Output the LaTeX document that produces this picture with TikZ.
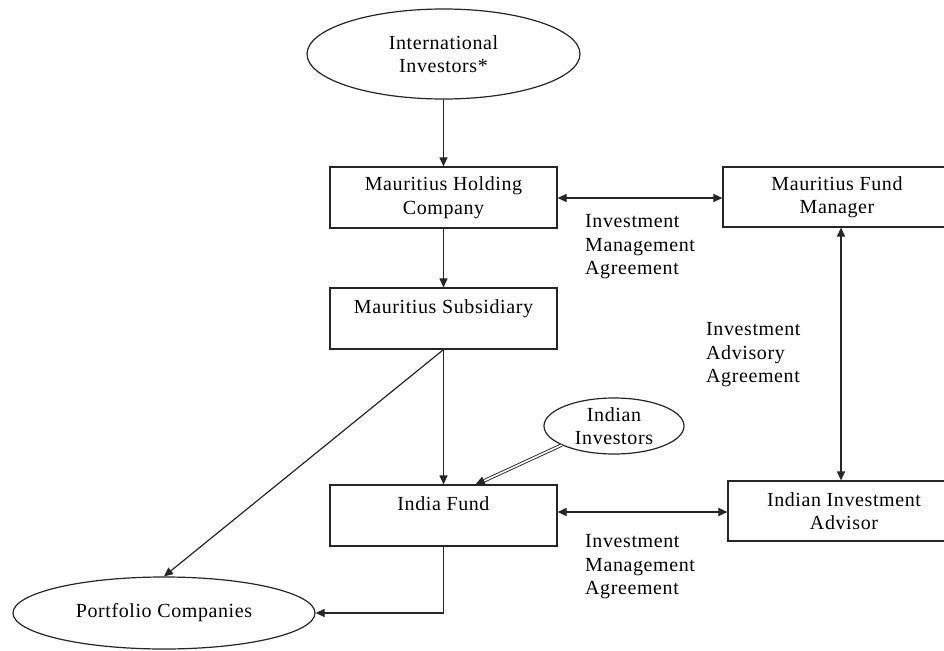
\documentclass[tikz,border=0pt]{standalone}
\usepackage{fontspec}
\setmainfont[LetterSpace=3]{Liberation Serif}
\usetikzlibrary{arrows.meta,shapes.geometric}
\begin{document}
\begin{tikzpicture}[x=1pt,y=-1pt,
  every node/.style={font=\fontsize{20}{23.5}\selectfont, text=black},
  conn/.style={draw=black!85, line width=1.2pt},
  arr/.style={conn, -{Triangle[length=9pt,width=8pt]}},
  darr/.style={conn, {Triangle[length=9pt,width=8pt]}-{Triangle[length=9pt,width=8pt]}},
  boxnode/.style={draw=black!85, line width=1.2pt, rectangle, align=center, inner sep=0pt},
  ellnode/.style={draw=black!85, line width=1.2pt, ellipse, align=center, inner sep=0pt},
  lab/.style={align=left, anchor=west, inner sep=0pt}]
\clip (0,0) rectangle (944,650);
\fill[white] (0,0) rectangle (944,650);

\node[ellnode, minimum width=273pt, minimum height=90pt] (intl) at (443.5,54) {International\\Investors*};
\node[boxnode, minimum width=227pt, minimum height=61pt] (hold) at (443.5,197.5) {Mauritius Holding\\Company};
\node[boxnode, minimum width=227pt, minimum height=61pt] (sub) at (443.5,318.5) {Mauritius Subsidiary\\\phantom{X}};
\node[boxnode, minimum width=227pt, minimum height=61pt] (fund) at (443.5,515.5) {India Fund\\\phantom{X}};
\node[boxnode, minimum width=228pt, minimum height=60pt] (mfm) at (837,197) {Mauritius Fund\\Manager};
\node[boxnode, minimum width=232pt, minimum height=60pt] (iia) at (844,511) {Indian Investment\\Advisor};
\node[ellnode, minimum width=140pt, minimum height=56pt] (indinv) at (614,426) {Indian\\Investors};
\node[ellnode, minimum width=302pt, minimum height=72pt] (port) at (164,613) {Portfolio Companies};

\node[lab] (lab1) at (585,247) {Investment\\Management\\Agreement};
\node[lab] (lab2) at (706,355) {Investment\\Advisory\\Agreement};
\node[lab] (lab3) at (585,567) {Investment\\Management\\Agreement};

\coordinate (ya) at (0,198);
\coordinate (yb) at (0,512);
\coordinate (xv) at (841,0);
\coordinate (ff) at (475,485);

\draw[arr] (intl.south) -- (hold.north);
\draw[arr] (hold.south) -- (sub.north);
\draw[darr] (hold.east |- ya) -- (mfm.west |- ya);
\draw[darr] (xv |- mfm.south) -- (xv |- iia.north);
\draw[arr] (sub.south) -- (fund.north);
\draw[arr] (sub.south) -- (port.north);
\draw[conn, double=white, double distance=1.6pt, line width=0.9pt, -{Triangle[length=10pt,width=9pt]}] (indinv.200) -- (ff);
\draw[darr] (fund.east |- yb) -- (iia.west |- yb);
\draw[arr] (fund.south) |- (port.east);
\end{tikzpicture}
\end{document}
